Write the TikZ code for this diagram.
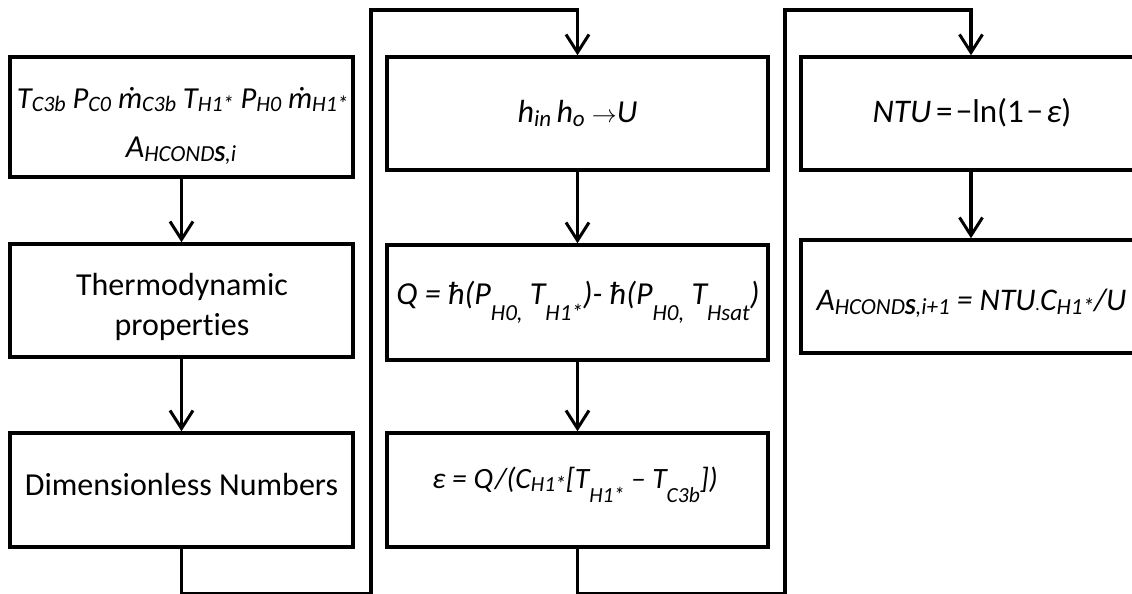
\documentclass[tikz,border=0pt]{standalone}
\usepackage{fontspec}
\setmainfont{Carlito}[Ligatures={NoCommon}]
\usetikzlibrary{arrows.meta}
\newcommand\subfont{\fontsize{23}{23}\selectfont}
\newcommand\sbn[1]{\raisebox{-0.13em}{\subfont #1}}
\newcommand\sbl[1]{\raisebox{-0.5em}{\subfont #1}}
\newcommand\sbm[1]{\raisebox{-0.5em}{\subfont #1}}
\begin{document}
\begin{tikzpicture}[x=1pt,y=-1pt,
  box/.style={draw, line width=3.5pt, inner sep=0pt},
  conn/.style={line width=3.5pt, -{Straight Barb[length=18pt,width=23pt,line width=3pt]}},
  lbl/.style={anchor=base, inner sep=0pt, font=\fontsize{32}{38}\selectfont}]
\useasboundingbox (0,0) rectangle (1132,594);
\clip (0,0) rectangle (1132,594);
\fill[white] (0,0) rectangle (1132,594);
% boxes
\node[box, minimum width=343pt, minimum height=120pt] (L1) at (181.5,117) {};
\node[box, minimum width=343pt, minimum height=113pt] (L2) at (181.5,300.5) {};
\node[box, minimum width=343pt, minimum height=114pt] (L3) at (181.5,490) {};
\node[box, minimum width=381pt, minimum height=113pt] (M1) at (577.5,113.5) {};
\node[box, minimum width=381pt, minimum height=115pt] (M2) at (577.5,302.5) {};
\node[box, minimum width=381pt, minimum height=114pt] (M3) at (577.5,490) {};
\node[box, minimum width=340pt, minimum height=113pt] (R1) at (971,113.5) {};
\node[box, minimum width=340pt, minimum height=113pt] (R2) at (971,296.5) {};
% labels
\node[lbl, font=\fontsize{30.5}{36}\selectfont] (t1) at (182.5,108) {\renewcommand\subfont{\fontsize{22}{22}\selectfont}\itshape T\sbn{C3b} P\sbn{C0} ṁ\sbn{C3b} T\sbn{H1*} P\sbn{H0} ṁ\sbn{H1*}};
\node[lbl] (t2) at (181,157) {\itshape A\sbn{HCOND\textbf{S},i}};
\node[lbl] (t3) at (182,295) {Thermodynamic};
\node[lbl] (t4) at (182,335) {properties};
\node[lbl] (t5) at (181.5,495) {Dimensionless Numbers};
\node[lbl] (t6) at (577.5,122) {\itshape h\sbn{in}\,h\sbn{o} $\rightarrow$U};
\node[lbl, font=\fontsize{33}{40}\selectfont] (t7) at (972,122) {\itshape NTU\upshape\hspace{0.15em}=\hspace{0.1em}−ln(1\hspace{0.08em}−\hspace{0.1em}\itshape ε\upshape)};
\node[lbl] (t8) at (578,304) {\itshape Q = ħ(P\sbl{H0,} T\sbl{H1*})- ħ(P\sbl{H0,} T\sbl{Hsat})};
\node[lbl, font=\fontsize{29.5}{36}\selectfont] (t9) at (575,488) {\renewcommand\subfont{\fontsize{21.5}{22}\selectfont}\itshape ε = Q/(C\sbn{H1*}[T\sbm{H1*} – T\sbm{C3b}])};
\node[lbl, font=\fontsize{31.5}{38}\selectfont] (t10) at (971.5,310) {\itshape A\sbn{HCOND\textbf{S},i+1} = NTU{\fontsize{18}{18}\selectfont .}C\sbn{H1*}/U};
% connectors
\coordinate (A1) at (371,594);
\coordinate (A2) at (371,10);
\coordinate (B1) at (785,594);
\coordinate (B2) at (785,10);
\draw[conn] (L1.south) -- (L2.north);
\draw[conn] (L2.south) -- (L3.north);
\draw[conn] (L3.south) |- (A1) -- (A2) -| (M1.north);
\draw[conn] (M1.south) -- (M2.north);
\draw[conn] (M2.south) -- (M3.north);
\draw[conn] (M3.south) |- (B1) -- (B2) -| (R1.north);
\draw[conn] (R1.south) -- (R2.north);
\end{tikzpicture}
\end{document}
